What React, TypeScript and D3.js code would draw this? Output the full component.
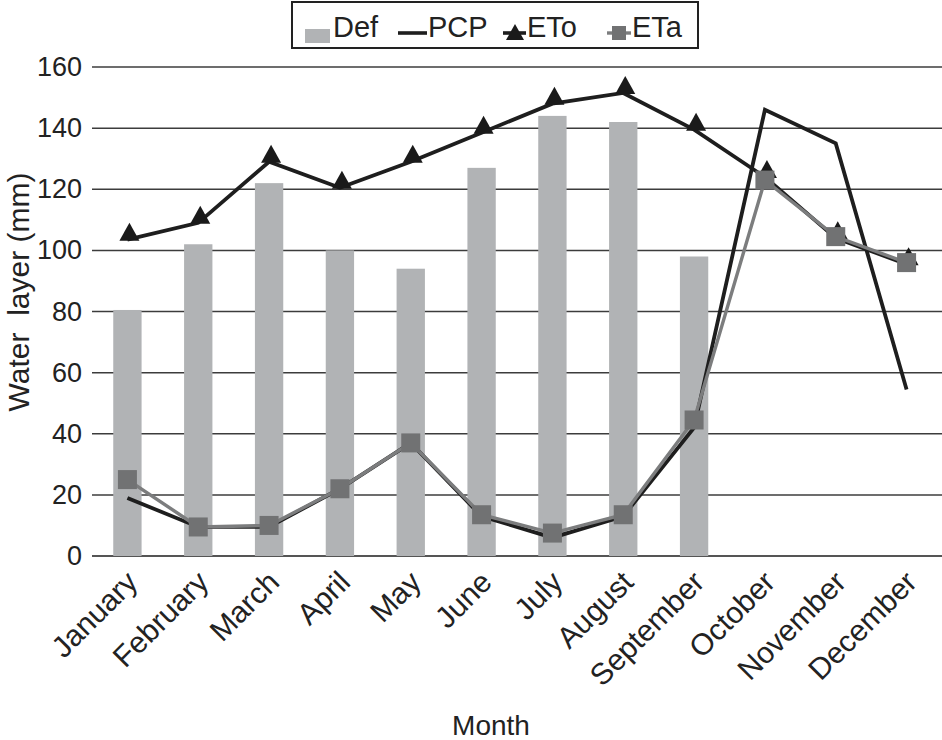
import React from "react";
import * as d3 from "d3";

const months = ["January","February","March","April","May","June","July","August","September","October","November","December"];
const defValues: (number | null)[] = [80.5, 102, 122, 100, 94, 127, 144, 142, 98, null, null, null];
const pcpValues = [19, 9.5, 9.5, 22, 37, 13, 6, 13, 42, 146, 135, 54.5];
const etoValues = [103.5, 109, 129, 120.5, 129, 138.5, 148, 151.5, 139.5, 124, 104, 95.5];
const etaValues = [25, 9.5, 10, 22, 37, 13.5, 7.5, 13.5, 44.5, 123, 104.5, 96];
const yTicks = [0, 20, 40, 60, 80, 100, 120, 140, 160];

const W = 942, H = 740;
const left = 92, right = 942, top = 67, bottom = 556;
const FONT = "'Liberation Sans', Arial, Helvetica, sans-serif";
const BAR = "#b1b3b5";
const ETA = "#717273";
const ETA_LINE = "#7c7d7e";

export default function App() {
  const x = d3.scaleBand<string>().domain(months).range([left, right]).paddingInner(0).paddingOuter(0);
  const y = d3.scaleLinear().domain([0, 160]).range([bottom, top]);
  const cx = (m: string) => (x(m) as number) + x.bandwidth() / 2;
  const barW = x.bandwidth() * 0.4;

  const line = d3.line<number>().x((_, i) => cx(months[i])).y((d) => y(d));
  const tri = (px: number, py: number, w: number, h: number) =>
    `M${px - w / 2},${py} L${px + w / 2},${py} L${px},${py - h} Z`;

  return (
    <svg width={W} height={H} style={{ position: "absolute", left: 0, top: 0, background: "#fff" }} fontFamily={FONT}>
      {/* gridlines */}
      {yTicks.map((t) => (
        <line key={t} x1={left} x2={right} y1={y(t)} y2={y(t)} stroke={t === 0 ? "#555" : "#3c3c3c"} strokeWidth={t === 0 ? 2 : 1.5} />
      ))}
      {yTicks.map((t) => (
        <text key={"l" + t} x={82} y={y(t)} textAnchor="end" dominantBaseline="central" fontSize={27} fill="#222">{t}</text>
      ))}
      {/* bars */}
      {defValues.map((v, i) =>
        v == null ? null : (
          <rect key={"b" + i} x={cx(months[i]) - barW / 2} y={y(v)} width={barW} height={y(0) - y(v)} fill={BAR} />
        )
      )}
      {/* PCP */}
      <path d={line(pcpValues) || ""} fill="none" stroke="#1e1e1e" strokeWidth={3.8} strokeLinejoin="miter" />
      {/* ETo */}
      <path d={line(etoValues) || ""} fill="none" stroke="#1e1e1e" strokeWidth={3.8} strokeLinejoin="miter" />
      {etoValues.map((v, i) => (
        <path key={"t" + i} d={tri(cx(months[i]) + 2, y(v) + 1, 20, 18)} fill="#1a1a1a" />
      ))}
      {/* ETa */}
      <path d={line(etaValues) || ""} fill="none" stroke={ETA_LINE} strokeWidth={3.4} />
      {etaValues.map((v, i) => (
        <rect key={"s" + i} x={cx(months[i]) - 9.5} y={y(v) - 9.5} width={19} height={19} fill={ETA} />
      ))}
      {/* x labels */}
      {months.map((m) => (
        <text key={"x" + m} transform={`translate(${cx(m) + 12},${584}) rotate(-45)`} textAnchor="end" fontSize={30} fill="#222">{m}</text>
      ))}
      <text x={491} y={735} textAnchor="middle" fontSize={28} fill="#222">Month</text>
      <text transform={`translate(29,292) rotate(-90)`} textAnchor="middle" fontSize={30} fill="#222" style={{ whiteSpace: "pre" }}>{"Water  layer (mm)"}</text>
      {/* legend */}
      <rect x={292} y={2} width={406} height={46} fill="#fff" stroke="#222" strokeWidth={2} />
      <rect x={305} y={29} width={25} height={14} fill={BAR} />
      <text x={333} y={37} fontSize={29} fill="#222">Def</text>
      <line x1={398} x2={427} y1={33} y2={33} stroke="#1e1e1e" strokeWidth={3.6} />
      <text x={428} y={37} fontSize={29} fill="#222">PCP</text>
      <line x1={503} x2={526} y1={33} y2={33} stroke="#1e1e1e" strokeWidth={3.6} />
      <path d={tri(515, 40, 18, 16)} fill="#1a1a1a" />
      <text x={527} y={37} fontSize={29} fill="#222">ETo</text>
      <line x1={607} x2={631} y1={33} y2={33} stroke={ETA_LINE} strokeWidth={3.4} />
      <rect x={612} y={26} width={14} height={14} fill={ETA} />
      <text x={632} y={37} fontSize={29} fill="#222">ETa</text>
    </svg>
  );
}
